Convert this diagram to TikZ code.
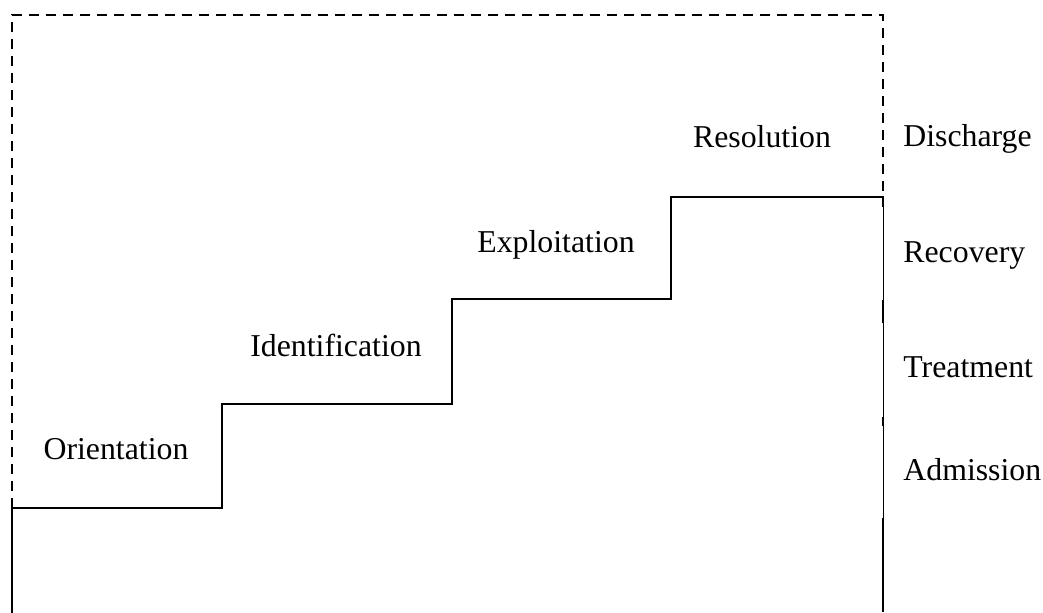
\documentclass[tikz,border=0pt]{standalone}
\usepackage{fontspec}
\setmainfont{Liberation Serif}
\begin{document}
\begin{tikzpicture}[x=0.5pt,y=-0.5pt,
  stairline/.style={line width=1pt,line cap=rect},
  frameline/.style={line width=0.9pt,dash pattern=on 5pt off 3.5pt},
  thinline/.style={line width=0.5pt},
  lbl/.style={font=\fontsize{15.9}{19}\selectfont,inner sep=0pt,anchor=base},
  rlbl/.style={lbl,anchor=base west}]
\useasboundingbox (0,0) rectangle (1043,612);
% corner points of the staircase and the frame
\coordinate (fTL) at (12,15);
\coordinate (fTR) at (883,15);
\coordinate (s0) at (12,508);
\coordinate (s1) at (222,508);
\coordinate (s2) at (222,404);
\coordinate (s3) at (452,404);
\coordinate (s4) at (452,299);
\coordinate (s5) at (671,299);
\coordinate (s6) at (671,197);
\coordinate (s7) at (883,197);
\coordinate (b0) at (12,612);
\coordinate (b1) at (883,612);
% dashed frame above the staircase
\draw[frameline] (s0) -- (fTL) -- (fTR) -- (s7);
% staircase
\draw[stairline] (b0) -- (s0) -- (s1) -- (s2) -- (s3) -- (s4) -- (s5) -- (s6) -- (s7);
% right edge with its stronger segments
\draw[thinline] (s7) -- (b1);
\draw[stairline,line cap=butt] (883,197) -- (883,207);
\draw[stairline,line cap=butt] (883,300) -- (883,323);
\draw[stairline,line cap=butt] (883,417) -- (883,426);
\draw[stairline,line cap=butt] (883,518) -- (b1);
% phase labels
\node[lbl] (orient) at (116,459) {Orientation};
\node[lbl] (ident) at (336,356) {Identification};
\node[lbl] (exploit) at (556,252) {Exploitation};
\node[lbl] (resol) at (762,147) {Resolution};
% stage labels
\node[rlbl] (disch) at (903,146) {Discharge};
\node[rlbl] (recov) at (903,262) {Recovery};
\node[rlbl] (treat) at (903,377) {Treatment};
\node[rlbl] (admis) at (903,480) {Admission};
\end{tikzpicture}
\end{document}
